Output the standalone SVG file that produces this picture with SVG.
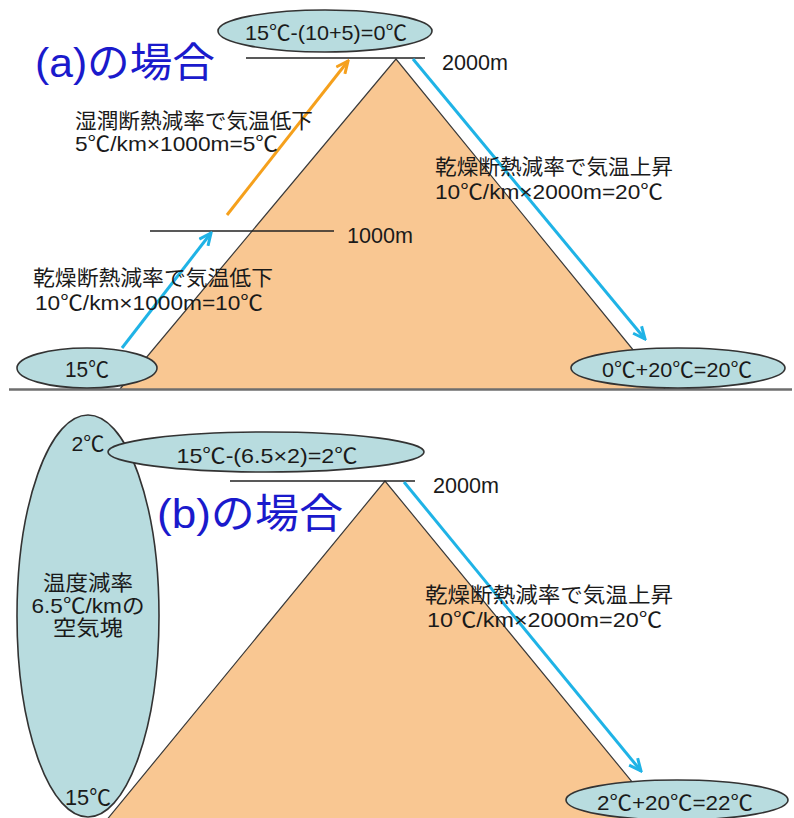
<svg xmlns="http://www.w3.org/2000/svg" width="794" height="818" viewBox="0 0 794 818">
  <defs>
    <style>
      .mtn { fill: #f9c792; stroke: none; }
      .slope { fill: none; stroke: #3a3a3a; stroke-width: 1.2; }
      .level { stroke: #222; stroke-width: 1.5; }
      .ground { stroke: #6e6e6e; stroke-width: 2.5; }
      .bubble { fill: #b8dcdf; stroke: #333; stroke-width: 1.6; }
      .t { font-family: "Liberation Sans", "Noto Sans CJK JP", sans-serif; font-size: 21px; fill: #1a1a1a; }
      .m { font-size: 22px; }
      .c { text-anchor: middle; }
      .title { font-family: "Liberation Sans", "Noto Sans CJK JP", sans-serif; font-size: 41px; fill: #1a1acc; }
      .blue { fill: none; stroke: #1fb3e6; stroke-width: 3; }
      .orange { fill: none; stroke: #f5a01c; stroke-width: 3; }
    </style>
    <marker id="headBlue" viewBox="0 0 16 14" refX="14" refY="7" markerWidth="16" markerHeight="14" markerUnits="userSpaceOnUse" orient="auto">
      <path d="M2,1.5 L14,7 L2,12.5" fill="none" stroke="#1fb3e6" stroke-width="3" stroke-linejoin="miter"/>
    </marker>
    <marker id="headOrange" viewBox="0 0 16 14" refX="14" refY="7" markerWidth="16" markerHeight="14" markerUnits="userSpaceOnUse" orient="auto">
      <path d="M2,1.5 L14,7 L2,12.5" fill="none" stroke="#f5a01c" stroke-width="3" stroke-linejoin="miter"/>
    </marker>
  </defs>

  <rect width="794" height="818" fill="#ffffff"/>

  <!-- (a) mountain, levels and ground -->
  <g id="mountain-a">
    <polygon class="mtn" points="396,59 120,389 665,389"/>
    <polyline class="slope" points="120,389 396,59 665,389"/>
  </g>
  <g id="levels-a">
    <line class="level" x1="246" y1="58" x2="425" y2="58"/>
    <line class="level" x1="150" y1="231" x2="334" y2="231"/>
    <line class="ground" x1="9" y1="389.5" x2="792" y2="389.5"/>
    <text class="t m" x="442" y="70" textLength="66" lengthAdjust="spacingAndGlyphs">2000m</text>
    <text class="t m" x="347" y="243" textLength="66" lengthAdjust="spacingAndGlyphs">1000m</text>
  </g>

  <!-- (b) mountain and level -->
  <g id="mountain-b">
    <polygon class="mtn" points="385,481 105,822 665,822"/>
    <polyline class="slope" points="105,822 385,481 665,822"/>
  </g>
  <g id="levels-b">
    <line class="level" x1="230" y1="481" x2="415" y2="481"/>
    <text class="t m" x="433" y="493" textLength="66" lengthAdjust="spacingAndGlyphs">2000m</text>
  </g>

  <!-- connectors -->
  <g id="connectors">
    <line class="blue" x1="122" y1="348" x2="211" y2="233" marker-end="url(#headBlue)"/>
    <line class="orange" x1="227" y1="215" x2="348" y2="61" marker-end="url(#headOrange)"/>
    <line class="blue" x1="413" y1="59" x2="645" y2="339" marker-end="url(#headBlue)"/>
    <line class="blue" x1="404" y1="482" x2="641" y2="771" marker-end="url(#headBlue)"/>
  </g>

  <!-- (a) nodes -->
  <g id="top-a">
    <ellipse class="bubble" cx="325" cy="31" rx="107" ry="21"/>
    <text class="t c" x="326" y="40" textLength="162" lengthAdjust="spacingAndGlyphs">15℃-(10+5)=0℃</text>
  </g>
  <g id="start-a">
    <ellipse class="bubble" cx="87" cy="368" rx="70" ry="20"/>
    <text class="t m c" x="87" y="377" textLength="44" lengthAdjust="spacingAndGlyphs">15℃</text>
  </g>
  <g id="end-a">
    <ellipse class="bubble" cx="678" cy="368" rx="107" ry="20"/>
    <text class="t c" x="677" y="377" textLength="150" lengthAdjust="spacingAndGlyphs">0℃+20℃=20℃</text>
  </g>
  <g id="labels-a">
    <text class="title" x="35" y="77" textLength="180" lengthAdjust="spacingAndGlyphs">(a)の場合</text>
    <text class="t" x="75" y="128" textLength="238" lengthAdjust="spacingAndGlyphs">湿潤断熱減率で気温低下</text>
    <text class="t" x="75" y="151" textLength="203" lengthAdjust="spacingAndGlyphs">5℃/km×1000m=5℃</text>
    <text class="t" x="435" y="174" textLength="238" lengthAdjust="spacingAndGlyphs">乾燥断熱減率で気温上昇</text>
    <text class="t" x="435" y="199" textLength="228" lengthAdjust="spacingAndGlyphs">10℃/km×2000m=20℃</text>
    <text class="t" x="33" y="285" textLength="240" lengthAdjust="spacingAndGlyphs">乾燥断熱減率で気温低下</text>
    <text class="t" x="35" y="310" textLength="228" lengthAdjust="spacingAndGlyphs">10℃/km×1000m=10℃</text>
  </g>

  <!-- (b) nodes -->
  <g id="air-mass-b">
    <ellipse class="bubble" cx="88" cy="616" rx="71" ry="201"/>
    <text class="t c" x="88" y="451" textLength="33" lengthAdjust="spacingAndGlyphs">2℃</text>
    <text class="t c" x="88" y="590" textLength="90" lengthAdjust="spacingAndGlyphs">温度減率</text>
    <text class="t c" x="88" y="613" textLength="113" lengthAdjust="spacingAndGlyphs">6.5℃/kmの</text>
    <text class="t c" x="88" y="635" textLength="70" lengthAdjust="spacingAndGlyphs">空気塊</text>
    <text class="t m c" x="88" y="805" textLength="46" lengthAdjust="spacingAndGlyphs">15℃</text>
  </g>
  <g id="top-b">
    <ellipse class="bubble" cx="266" cy="452" rx="158" ry="20"/>
    <text class="t c" x="267" y="463" textLength="181" lengthAdjust="spacingAndGlyphs">15℃-(6.5×2)=2℃</text>
  </g>
  <g id="end-b">
    <ellipse class="bubble" cx="677" cy="800" rx="111" ry="20"/>
    <text class="t c" x="675" y="810" textLength="156" lengthAdjust="spacingAndGlyphs">2℃+20℃=22℃</text>
  </g>
  <g id="labels-b">
    <text class="title" x="157" y="528" textLength="186" lengthAdjust="spacingAndGlyphs">(b)の場合</text>
    <text class="t" x="425" y="602" textLength="248" lengthAdjust="spacingAndGlyphs">乾燥断熱減率で気温上昇</text>
    <text class="t" x="427" y="627" textLength="235" lengthAdjust="spacingAndGlyphs">10℃/km×2000m=20℃</text>
  </g>
</svg>
